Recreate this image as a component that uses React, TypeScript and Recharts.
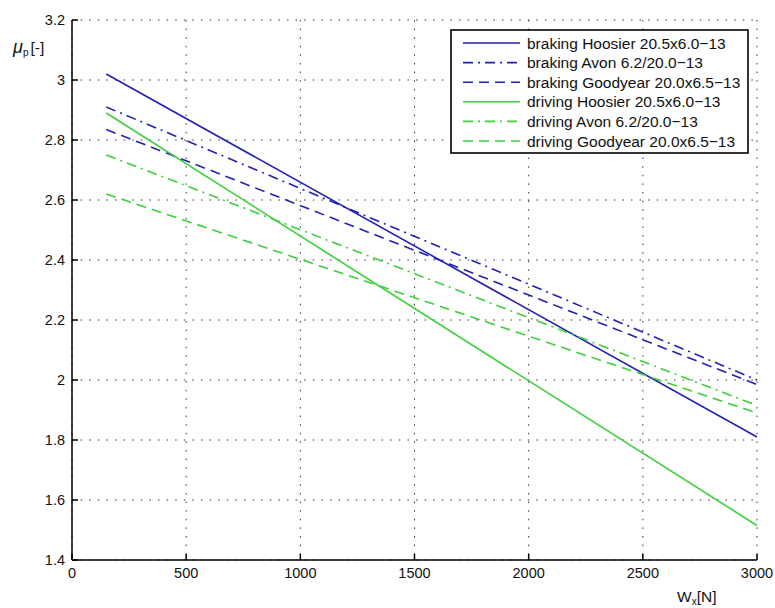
import React from "react";
import { LineChart, Line, XAxis, YAxis, CartesianGrid } from "recharts";

const loadX = [150, 3000];
const brakingHoosier = [3.02, 1.81];
const brakingAvon = [2.91, 2.0];
const brakingGoodyear = [2.835, 1.985];
const drivingHoosier = [2.89, 1.515];
const drivingAvon = [2.75, 1.915];
const drivingGoodyear = [2.62, 1.89];

const xTicks = [0, 500, 1000, 1500, 2000, 2500, 3000];
const yTicks = [1.4, 1.6, 1.8, 2, 2.2, 2.4, 2.6, 2.8, 3, 3.2];

const BLUE = "#2121b5";
const GREEN = "#3ccf3c";

const seriesDefs = [
  { key: "bh", name: "braking Hoosier 20.5x6.0\u221213", color: BLUE, dash: undefined, values: brakingHoosier },
  { key: "ba", name: "braking Avon 6.2/20.0\u221213", color: BLUE, dash: "10 5 2 5", values: brakingAvon },
  { key: "bg", name: "braking Goodyear 20.0x6.5\u221213", color: BLUE, dash: "10 6", values: brakingGoodyear },
  { key: "dh", name: "driving Hoosier 20.5x6.0\u221213", color: GREEN, dash: undefined, values: drivingHoosier },
  { key: "da", name: "driving Avon 6.2/20.0\u221213", color: GREEN, dash: "10 5 2 5", values: drivingAvon },
  { key: "dg", name: "driving Goodyear 20.0x6.5\u221213", color: GREEN, dash: "10 6", values: drivingGoodyear },
];

const data = loadX.map((x, i) => {
  const row: any = { x };
  seriesDefs.forEach((s) => (row[s.key] = s.values[i]));
  return row;
});

const FONT = "'Liberation Sans', Arial, sans-serif";

const LEG_X = 451;
const LEG_Y = 30;
const LEG_W = 297;
const LEG_H = 123;
const ROW0 = 43;
const ROW_H = 19.6;

export default function App() {
  return (
    <div style={{ position: "absolute", left: 0, top: 0, width: 775, height: 608, background: "#fff" }}>
      <LineChart
        width={775}
        height={608}
        data={data}
        margin={{ top: 20, right: 18, bottom: 18, left: 32 }}
      >
        <CartesianGrid stroke="#333" strokeDasharray="1.5 7.1" strokeWidth={1} />
        <XAxis
          dataKey="x"
          type="number"
          domain={[0, 3000]}
          ticks={xTicks}
          height={30}
          axisLine={{ stroke: "#000", strokeWidth: 1.5 }}
          tickLine={{ stroke: "#000", strokeWidth: 1.5 }}
          tickSize={-6}
          tickMargin={14}
          tick={{ fill: "#111", fontSize: 14.5, fontFamily: FONT }}
          interval={0}
        />
        <XAxis
          xAxisId="top"
          dataKey="x"
          type="number"
          orientation="top"
          domain={[0, 3000]}
          ticks={xTicks}
          height={0}
          axisLine={{ stroke: "#000", strokeWidth: 1.5 }}
          tickLine={{ stroke: "#000", strokeWidth: 1.5 }}
          tickSize={-6}
          tick={false}
          interval={0}
        />
        <YAxis
          type="number"
          domain={[1.4, 3.2]}
          ticks={yTicks}
          width={40}
          axisLine={{ stroke: "#000", strokeWidth: 1.5 }}
          tickLine={{ stroke: "#000", strokeWidth: 1.5 }}
          tickSize={-6}
          tickMargin={13}
          tick={{ fill: "#111", fontSize: 14.5, fontFamily: FONT }}
          interval={0}
        />
        <YAxis
          yAxisId="right"
          type="number"
          orientation="right"
          domain={[1.4, 3.2]}
          ticks={yTicks}
          width={0}
          axisLine={{ stroke: "#000", strokeWidth: 1.5 }}
          tickLine={{ stroke: "#000", strokeWidth: 1.5 }}
          tickSize={-6}
          tick={false}
          interval={0}
        />
        {seriesDefs.map((s) => (
          <Line
            key={s.key}
            dataKey={s.key}
            name={s.name}
            stroke={s.color}
            strokeWidth={1.6}
            strokeDasharray={s.dash}
            dot={false}
            activeDot={false}
            isAnimationActive={false}
            type="linear"
          />
        ))}
        <g>
          <rect x={LEG_X} y={LEG_Y} width={LEG_W} height={LEG_H} fill="#fff" stroke="#000" strokeWidth={1.6} />
          {seriesDefs.map((s, i) => (
            <g key={s.key}>
              <line
                x1={463}
                x2={520}
                y1={ROW0 + i * ROW_H}
                y2={ROW0 + i * ROW_H}
                stroke={s.color}
                strokeWidth={1.6}
                strokeDasharray={s.dash}
              />
              <text
                x={527}
                y={ROW0 + i * ROW_H + 5.5}
                fontFamily={FONT}
                fontSize={15.5}
                fill="#111"
              >
                {s.name}
              </text>
            </g>
          ))}
        </g>
        <text x={13} y={53} fontFamily={FONT} fontSize={15.5} fill="#111">
          <tspan fontStyle="italic" fontSize={18}>μ</tspan>
          <tspan fontSize={10} dy={3}>p</tspan>
          <tspan dy={-3} dx={2}>[-]</tspan>
        </text>
        <text x={677} y={602} fontFamily={FONT} fontSize={15.5} fill="#111">
          <tspan>W</tspan>
          <tspan fontSize={10} dy={3}>x</tspan>
          <tspan dy={-3}>[N]</tspan>
        </text>
      </LineChart>
    </div>
  );
}
